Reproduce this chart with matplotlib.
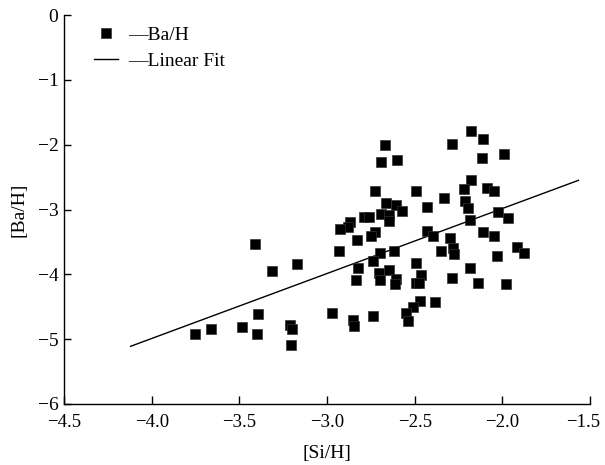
import numpy as np
import matplotlib.pyplot as plt
from matplotlib.transforms import ScaledTranslation

plt.rcParams.update({'font.family': 'Liberation Serif',
                     'font.size': 14,
                     'axes.linewidth': 1.0})

# [Si/H] and [Ba/H]
si_h = [-3.411, -3.316, -3.173, -3.392, -3.751, -3.662, -3.486, -3.401, -3.212, -3.199,
        -3.203, -2.969, -2.670, -2.286, -2.692, -2.598, -2.726, -2.492, -2.333, -2.661,
        -2.609, -2.570, -2.430, -2.787, -2.760, -2.692, -2.645, -2.647, -2.868, -2.882,
        -2.925, -2.726, -2.751, -2.827, -2.430, -2.396, -2.301, -2.282, -2.277, -2.934,
        -2.696, -2.617, -2.736, -2.821, -2.836, -2.702, -2.698, -2.645, -2.607, -2.614,
        -2.492, -2.462, -2.495, -2.475, -2.352, -2.286, -2.471, -2.509, -2.547, -2.537,
        -2.386, -2.853, -2.845, -2.736, -2.180, -2.112, -2.118, -1.989, -2.180, -2.216,
        -2.087, -2.050, -2.211, -2.197, -2.023, -1.965, -2.182, -2.112, -2.050, -2.031,
        -1.917, -1.874, -2.187, -2.140, -1.980]
ba_h = [-3.534, -3.955, -3.843, -4.614, -4.923, -4.841, -4.810, -4.923, -4.784, -4.841,
        -5.097, -4.594, -2.006, -1.995, -2.269, -2.233, -2.721, -2.711, -2.829, -2.906,
        -2.937, -3.025, -2.968, -3.113, -3.113, -3.071, -3.086, -3.179, -3.190, -3.267,
        -3.307, -3.349, -3.410, -3.465, -3.329, -3.415, -3.441, -3.596, -3.688, -3.642,
        -3.673, -3.642, -3.789, -3.904, -4.090, -3.981, -4.090, -3.935, -4.074, -4.151,
        -3.832, -4.005, -4.136, -4.131, -3.642, -4.063, -4.414, -4.502, -4.599, -4.718,
        -4.424, -4.707, -4.795, -4.640, -1.782, -1.918, -2.207, -2.145, -2.542, -2.690,
        -2.674, -2.716, -2.867, -2.978, -3.035, -3.137, -3.164, -3.352, -3.415, -3.719,
        -3.585, -3.677, -3.900, -4.128, -4.156]

# linear fit line end points
fit_x = [-4.12, -1.566]
fit_y = [-5.11, -2.55]

fig = plt.figure(figsize=(6.05, 4.65), dpi=100)
ax = fig.add_axes([0.1058, 0.1312, 0.8694, 0.8365])

ax.plot(si_h, ba_h, 's', color='black', markersize=6.8, markeredgewidth=0.5,
        markeredgecolor='#333333', label='\u2014Ba/H', zorder=3)
ax.plot(fit_x, fit_y, '-', color='black', lw=1.0, label='\u2014Linear Fit')

ax.set_xlim(-4.5, -1.5)
ax.set_ylim(-6, 0)
ax.set_xticks(np.arange(-4.5, -1.49, 0.5))
ax.set_yticks(np.arange(-6, 0.1, 1))
ax.xaxis.set_major_formatter(plt.FuncFormatter(lambda v, p: '\u2212%.1f' % abs(v) if v < 0 else '%.1f' % v))
ax.yaxis.set_major_formatter(plt.FuncFormatter(lambda v, p: '\u2212%d' % abs(v) if v < 0 else '%d' % v))

for s in ['top', 'right']:
    ax.spines[s].set_visible(False)
ax.tick_params(axis='x', direction='in', length=6, width=1, labelsize=13.5, pad=7)
ax.tick_params(axis='y', direction='in', length=5, width=1, labelsize=14, pad=4)

# last x label sits against the right edge, nudge it in like the original
lab = ax.xaxis.get_major_ticks()[-1].label1
lab.set_transform(lab.get_transform() + ScaledTranslation(-5 / 72, 0, fig.dpi_scale_trans))

ax.set_xlabel('[Si/H]', fontsize=14, labelpad=10)
ax.set_ylabel('[Ba/H]', fontsize=14, labelpad=7)

ax.legend(loc='upper left', bbox_to_anchor=(0.057, 0.972), frameon=False,
          fontsize=14, handlelength=1.25, handletextpad=0.5, labelspacing=0.45,
          borderaxespad=0, borderpad=0, markerscale=1.0)

plt.savefig('out.png', dpi=100)
